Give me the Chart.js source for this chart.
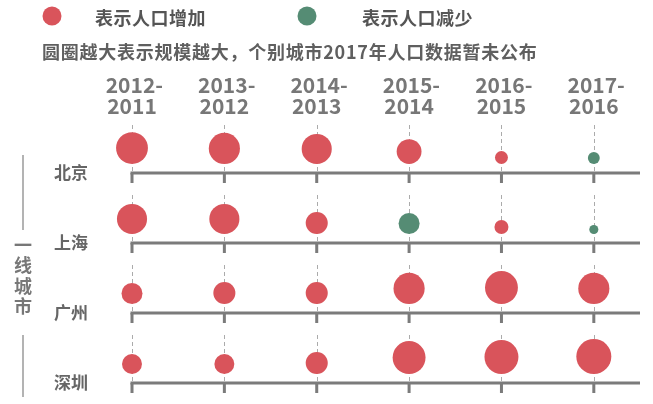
<!DOCTYPE html>
<html>
<head>
<meta charset="utf-8">
<script src="https://cdn.jsdelivr.net/npm/chart.js@4.4.1/dist/chart.umd.min.js"></script>
<style>
  html, body { margin: 0; padding: 0; background: #fff; }
  #wrap { width: 653px; height: 404px; }
</style>
</head>
<body>
<div id="wrap"><canvas id="chart"></canvas></div>
<script>
const periods = ['2012-2011', '2013-2012', '2014-2013', '2015-2014', '2016-2015', '2017-2016'];
const cities = ['北京', '上海', '广州', '深圳'];
// relative circle size (100 = biggest), negative = population fell
const beijing = [91, 89, 86, 71, 37, -34];
const shanghai = [86, 86, 63, -60, 40, -26];
const guangzhou = [60, 63, 63, 89, 94, 89];
const shenzhen = [57, 57, 63, 94, 97, 100];
const rows = [beijing, shanghai, guangzhou, shenzhen];

const RED = '#d9545b';
const GREEN = '#558c74';
const MAX_R = 17.5;
const FONT = '"Noto Sans CJK SC", "Noto Sans", sans-serif';

Chart.defaults.font.family = FONT;

const decor = {
    id: 'decor',
    beforeDatasetsDraw(chart) {
        const { ctx, chartArea, scales: { x, y } } = chart;
        ctx.save();
        rows.forEach((vals, r) => {
            const base = y.getPixelForValue(r);
            // dashed guides
            ctx.strokeStyle = '#ababab';
            ctx.lineWidth = 1;
            ctx.setLineDash([4, 3]);
            vals.forEach((_, c) => {
                const px = Math.round(x.getPixelForValue(c)) + 0.5;
                ctx.beginPath();
                ctx.moveTo(px, base - 48);
                ctx.lineTo(px, base);
                ctx.stroke();
            });
            ctx.setLineDash([]);
            // row line + ticks
            ctx.strokeStyle = '#7b7b7b';
            ctx.lineWidth = 3;
            ctx.beginPath();
            ctx.moveTo(x.getPixelForValue(0) - 1.5, base);
            ctx.lineTo(chartArea.right, base);
            ctx.stroke();
            ctx.fillStyle = '#7b7b7b';
            vals.forEach((_, c) => {
                ctx.fillRect(x.getPixelForValue(c) - 1.5, base, 3, 10);
            });
        });
        ctx.restore();
        // sit each bubble just above its row line
        chart.data.datasets.forEach((ds, i) => {
            chart.getDatasetMeta(i).data.forEach(el => {
                el.y = y.getPixelForValue(i) - el.options.radius - 9;
            });
        });
    },
    afterDraw(chart) {
        const ctx = chart.ctx;
        ctx.save();
        ctx.textBaseline = 'middle';
        ctx.textAlign = 'left';

        // legend
        ctx.font = 'bold 18px ' + FONT;
        ctx.fillStyle = RED;
        ctx.beginPath(); ctx.arc(52, 16, 9.5, 0, Math.PI * 2); ctx.fill();
        ctx.fillStyle = GREEN;
        ctx.beginPath(); ctx.arc(307, 16, 9.5, 0, Math.PI * 2); ctx.fill();
        ctx.fillStyle = '#555';
        ctx.letterSpacing = '0.5px';
        ctx.fillText('表示人口增加', 95, 18);
        ctx.fillText('表示人口减少', 362, 18);

        // note
        ctx.fillStyle = '#5f5f5f';
        ctx.letterSpacing = '0.75px';
        ctx.fillText('圆圈越大表示规模越大，个别城市2017年人口数据暂未公布', 42, 52);
        ctx.letterSpacing = '0px';

        // side label
        ctx.fillStyle = '#777';
        ctx.textAlign = 'center';
        ['一', '线', '城', '市'].forEach((ch, i) => {
            ctx.fillText(ch, 23, 245 + i * 20.5);
        });
        ctx.strokeStyle = '#9a9a9a';
        ctx.lineWidth = 1.5;
        ctx.beginPath();
        ctx.moveTo(23, 155); ctx.lineTo(23, 230);
        ctx.moveTo(23, 335); ctx.lineTo(23, 397);
        ctx.stroke();
        ctx.restore();
    }
};

new Chart(document.getElementById('chart'), {
    type: 'bubble',
    data: {
        datasets: rows.map((vals, r) => ({
            label: cities[r],
            data: vals.map((v, c) => ({ x: c, y: r, r: Math.abs(v) / 100 * MAX_R, v: v })),
            backgroundColor: ctx => (ctx.raw && ctx.raw.v < 0 ? GREEN : RED),
            borderWidth: 0,
            clip: false
        }))
    },
    options: {
        responsive: true,
        maintainAspectRatio: false,
        animation: false,
        events: [],
        layout: { autoPadding: false, padding: { left: 0, right: 13, top: 0, bottom: 21 } },
        plugins: { legend: { display: false }, tooltip: { enabled: false } },
        scales: {
            x: {
                type: 'linear',
                position: 'top',
                min: 0,
                max: 5.5,
                grid: { display: false, drawTicks: false },
                border: { display: false },
                afterBuildTicks: s => { s.ticks = periods.map((_, i) => ({ value: i })); },
                afterFit: s => { s.height = 117; },
                ticks: {
                    autoSkip: false,
                    maxRotation: 0,
                    padding: 0,
                    color: '#777',
                    font: { size: 21, weight: 'bold', lineHeight: 1.0 },
                    callback: v => {
                        const p = periods[v];
                        if (!p) return '';
                        const [a, b] = p.split('-');
                        return [' ' + a + '-', b];
                    }
                }
            },
            y: {
                type: 'linear',
                reverse: true,
                min: -0.8,
                max: 3,
                grid: { display: false, drawTicks: false },
                border: { display: false },
                afterBuildTicks: s => { s.ticks = cities.map((_, i) => ({ value: i })); },
                afterFit: s => {
                    s.width = 132;
                    s.paddingTop = 0;
                    s.paddingBottom = 0;
                },
                ticks: {
                    padding: 44,
                    color: '#666',
                    font: { size: 17, weight: 'bold' },
                    callback: v => cities[v] ?? ''
                }
            }
        }
    },
    plugins: [decor]
});
</script>
</body>
</html>
